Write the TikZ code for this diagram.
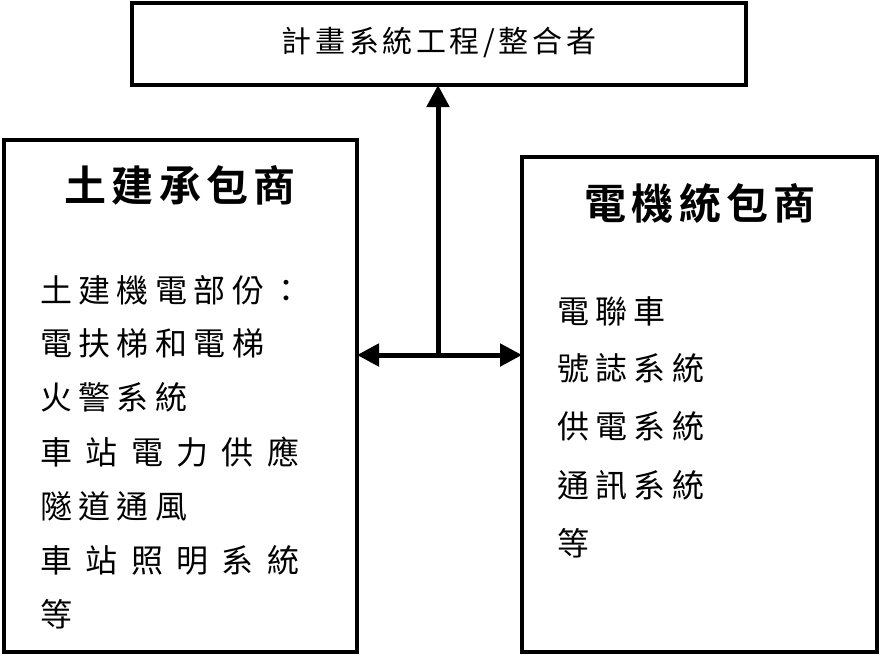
\documentclass[tikz,border=0pt]{standalone}
\usepackage{fontspec}
\setmainfont{Noto Sans CJK TC}
\newfontfamily\cjk{Noto Sans CJK TC}
\newfontfamily\cjkbold{Noto Sans CJK TC Bold}
\usetikzlibrary{arrows.meta}
\begin{document}
\begin{tikzpicture}[x=1pt,y=-1pt,
  boxst/.style={draw,line width=3.5pt},
  item/.style={anchor=west,inner sep=0pt,font=\fontsize{32}{32}\selectfont\cjk\addfontfeature{LetterSpace=20}},
  itemw/.style={anchor=west,inner sep=0pt,font=\fontsize{32}{32}\selectfont\cjk\addfontfeature{LetterSpace=42}},
  ttl/.style={inner sep=0pt,font=\fontsize{42}{42}\selectfont\cjkbold\addfontfeature{LetterSpace=12}},
  arr/.style={line width=5pt,-{Triangle[length=22pt,width=22pt]}}]
\useasboundingbox (0,0) rectangle (880,657);
\draw[boxst] (132,3) rectangle (746,85);
\coordinate (topb) at (438,85);
\node[inner sep=0pt,font=\fontsize{30}{30}\selectfont\cjk\addfontfeature{LetterSpace=12}] (top) at (439,43) {計畫系統工程/整合者};
\draw[boxst] (4,140) rectangle (357,652);
\draw[boxst] (522,157) rectangle (877,652);
\coordinate (lb) at (357,355);
\coordinate (rb) at (522,355);
\coordinate (mid) at (438,355);
\draw[arr] (mid) -- (topb);
\draw[arr] (mid) -- (lb);
\draw[arr] (mid) -- (rb);
\node[ttl] (lt) at (180,185) {土建承包商};
\node[ttl] (rt) at (700,203) {電機統包商};
\node[item] (l1) at (40,290) {土建機電部份：};
\node[item] (l2) at (40,343) {電扶梯和電梯};
\node[item] (l3) at (40,397) {火警系統};
\node[itemw] (l4) at (40,452) {車站電力供應};
\node[item] (l5) at (40,506) {隧道通風};
\node[itemw] (l6) at (40,560) {車站照明系統};
\node[item] (l7) at (40,614) {等};
\node[item] (r1) at (557,311) {電聯車};
\node[item] (r2) at (557,368) {號誌系統};
\node[item] (r3) at (557,426) {供電系統};
\node[item] (r4) at (557,485) {通訊系統};
\node[item] (r5) at (557,543) {等};
\end{tikzpicture}
\end{document}
